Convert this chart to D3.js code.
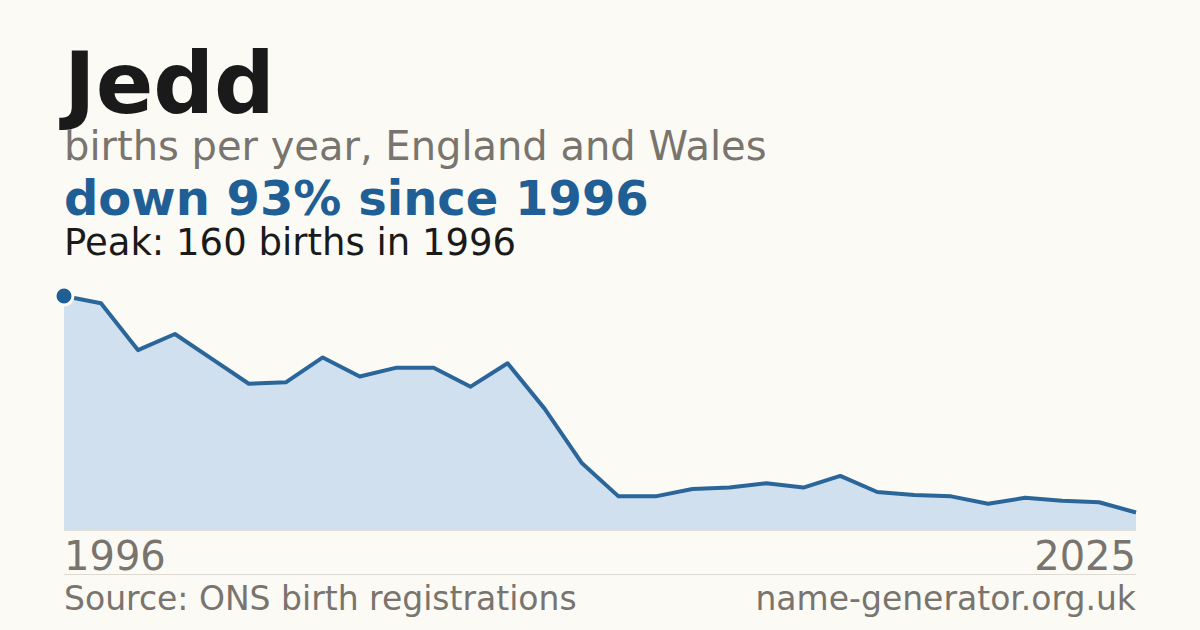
<!DOCTYPE html>
<html>
<head>
<meta charset="utf-8">
<script src="https://cdn.jsdelivr.net/npm/d3@7"></script>
<style>
  html, body { margin: 0; padding: 0; background: #fbfaf5; }
  svg { display: block; font-family: "DejaVu Sans", sans-serif; }
</style>
</head>
<body>
<div id="chart"></div>
<script>
var width = 1200;
var height = 630;

var years = d3.range(1996, 2026);
var births = [160, 155, 123, 134, 117, 100, 101, 118, 105, 111,
              111, 98, 114, 83, 46, 23, 23, 28, 29, 32,
              29, 37, 26, 24, 23, 18, 22, 20, 19, 12];
var tickYears = [1996, 2025];

var data = years.map(function(y, i) { return { year: y, n: births[i] }; });
var peak = data.reduce(function(a, b) { return b.n > a.n ? b : a; });
var last = data[data.length - 1];
var change = Math.round((1 - last.n / data[0].n) * 100);

var svg = d3.select('#chart')
  .append('svg')
  .attr('width', width)
  .attr('height', height);

svg.append('rect')
  .attr('width', width).attr('height', height)
  .attr('fill', '#fbfaf5');

var x = d3.scaleLinear().domain(d3.extent(years)).range([64, 1136]);
var y = d3.scaleLinear().domain([0, peak.n]).range([530, 296]);

// headings
svg.append('text').attr('x', 64).attr('y', 113)
  .attr('font-size', 85).attr('font-weight', 'bold').attr('fill', '#1a1a1a')
  .text('Jedd');
svg.append('text').attr('x', 64).attr('y', 160)
  .attr('font-size', 40).attr('fill', '#79746d')
  .text('births per year, England and Wales');
svg.append('text').attr('x', 64).attr('y', 215)
  .attr('font-size', 48).attr('font-weight', 'bold').attr('fill', '#1f5f96')
  .text('down ' + change + '% since ' + data[0].year);
svg.append('text').attr('x', 64).attr('y', 255)
  .attr('font-size', 37).attr('fill', '#1a1a1a')
  .text('Peak: ' + peak.n + ' births in ' + peak.year);

// area + line
var area = d3.area()
  .x(function(d) { return x(d.year); })
  .y0(y(0))
  .y1(function(d) { return y(d.n); });

var line = d3.line()
  .x(function(d) { return x(d.year); })
  .y(function(d) { return y(d.n); });

svg.append('path')
  .datum(data)
  .attr('fill', '#d0e0ef')
  .attr('d', area);

svg.append('line')
  .attr('x1', 64).attr('x2', 1136)
  .attr('y1', y(0) + 0.5).attr('y2', y(0) + 0.5)
  .attr('stroke', '#e4e0d6').attr('stroke-width', 1);

svg.append('path')
  .datum(data)
  .attr('fill', 'none')
  .attr('stroke', '#2a6699')
  .attr('stroke-width', 4)
  .attr('stroke-linejoin', 'round')
  .attr('d', line);

svg.append('circle')
  .attr('cx', x(peak.year)).attr('cy', y(peak.n))
  .attr('r', 9)
  .attr('fill', '#1f5f96')
  .attr('stroke', '#fbfaf5').attr('stroke-width', 3);

// year labels
svg.selectAll('.yr')
  .data(tickYears)
  .enter()
  .append('text')
  .attr('class', 'yr')
  .attr('x', function(d) { return x(d); })
  .attr('y', 570)
  .attr('text-anchor', function(d, i) { return i === 0 ? 'start' : 'end'; })
  .attr('font-size', 40)
  .attr('fill', '#79746d')
  .text(function(d) { return d; });

svg.append('line')
  .attr('x1', 64).attr('x2', 1136)
  .attr('y1', 574.5).attr('y2', 574.5)
  .attr('stroke', '#dedad1').attr('stroke-width', 1);

// footer
svg.append('text').attr('x', 64).attr('y', 610)
  .attr('font-size', 33).attr('fill', '#79746d')
  .text('Source: ONS birth registrations');
svg.append('text').attr('x', 1136).attr('y', 610)
  .attr('text-anchor', 'end')
  .attr('font-size', 33).attr('fill', '#79746d')
  .text('name-generator.org.uk');
</script>
</body>
</html>
